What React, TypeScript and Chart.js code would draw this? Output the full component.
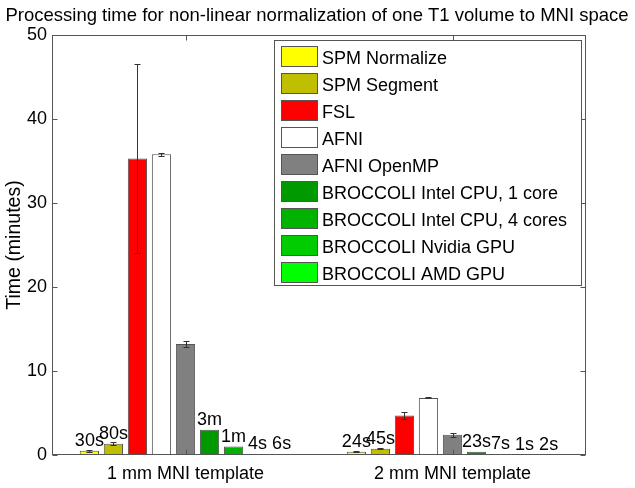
import React, { useEffect, useRef } from 'react';
import { Chart, registerables } from 'chart.js';

Chart.register(...registerables);

const FONT = '"Liberation Sans", Arial, Helvetica, sans-serif';

const chartTitle = 'Processing time for non-linear normalization of one T1 volume to MNI space';
const yAxisTitle = 'Time (minutes)';
const groups = ['1 mm MNI template', '2 mm MNI template'];
const yTicks = [0, 10, 20, 30, 40, 50];

const seriesNames = [
  'SPM Normalize',
  'SPM Segment',
  'FSL',
  'AFNI',
  'AFNI OpenMP',
  'BROCCOLI Intel CPU, 1 core',
  'BROCCOLI Intel CPU, 4 cores',
  'BROCCOLI Nvidia GPU',
  'BROCCOLI AMD GPU',
];
const seriesColors = ['#FFFF00', '#BFBF00', '#FF0000', '#FFFFFF', '#808080', '#009900', '#00B300', '#00CC00', '#00FF00'];

// minutes, per group [1 mm, 2 mm]
const spmNormalize = [0.5, 0.4];
const spmSegment = [1.33, 0.75];
const fsl = [35.3, 4.7];
const afni = [35.8, 6.8];
const afniOpenMP = [13.2, 2.4];
const broccoliCpu1 = [3.0, 0.383];
const broccoliCpu4 = [1.0, 0.117];
const broccoliNvidia = [0.067, 0.017];
const broccoliAmd = [0.1, 0.033];

const spmNormalizeErr = [0.1, 0.08];
const spmSegmentErr = [0.18, 0.08];
const fslErr = [11.2, 0.4];
const afniErr = [0.15, 0.05];
const afniOpenMPErr = [0.35, 0.2];
const broccoliCpu1Err = [0, 0];
const broccoliCpu4Err = [0, 0];
const broccoliNvidiaErr = [0, 0];
const broccoliAmdErr = [0, 0];

const spmNormalizeLbl = ['30s', '24s'];
const spmSegmentLbl = ['80s', '45s'];
const fslLbl = ['', ''];
const afniLbl = ['', ''];
const afniOpenMPLbl = ['', ''];
const broccoliCpu1Lbl = ['3m', '23s'];
const broccoliCpu4Lbl = ['1m', '7s'];
const broccoliNvidiaLbl = ['4s', '1s'];
const broccoliAmdLbl = ['6s', '2s'];

const seriesValues = [spmNormalize, spmSegment, fsl, afni, afniOpenMP, broccoliCpu1, broccoliCpu4, broccoliNvidia, broccoliAmd];
const seriesErrors = [spmNormalizeErr, spmSegmentErr, fslErr, afniErr, afniOpenMPErr, broccoliCpu1Err, broccoliCpu4Err, broccoliNvidiaErr, broccoliAmdErr];
const seriesLabels = [spmNormalizeLbl, spmSegmentLbl, fslLbl, afniLbl, afniOpenMPLbl, broccoliCpu1Lbl, broccoliCpu4Lbl, broccoliNvidiaLbl, broccoliAmdLbl];

const decorPlugin = {
  id: 'decor',
  afterDatasetsDraw(chart: any) {
    const ctx = chart.ctx;
    const y = chart.scales.y;
    ctx.save();
    // error bars
    ctx.strokeStyle = '#333';
    ctx.lineWidth = 1;
    seriesErrors.forEach((errs, i) => {
      const meta = chart.getDatasetMeta(i);
      errs.forEach((e, j) => {
        if (!e) return;
        const v = seriesValues[i][j];
        const bar = meta.data[j];
        const x = Math.round(bar.x) + 0.5;
        const yt = Math.round(y.getPixelForValue(v + e)) + 0.5;
        const yb = Math.round(y.getPixelForValue(Math.max(0, v - e))) + 0.5;
        ctx.beginPath();
        ctx.moveTo(x, yt);
        ctx.lineTo(x, yb);
        ctx.moveTo(x - 3, yt);
        ctx.lineTo(x + 3, yt);
        ctx.moveTo(x - 3, yb);
        ctx.lineTo(x + 3, yb);
        ctx.stroke();
      });
    });
    // value labels
    ctx.fillStyle = '#000';
    ctx.font = `18px ${FONT}`;
    ctx.textAlign = 'center';
    ctx.textBaseline = 'alphabetic';
    seriesLabels.forEach((lbls, i) => {
      const meta = chart.getDatasetMeta(i);
      lbls.forEach((t, j) => {
        if (!t) return;
        const bar = meta.data[j];
        const v = seriesValues[i][j];
        ctx.fillText(t, bar.x, y.getPixelForValue(v) - 5);
      });
    });
    ctx.restore();
  },
  afterDraw(chart: any) {
    const ctx = chart.ctx;
    const a = chart.chartArea;
    const y = chart.scales.y;
    const x = chart.scales.x;
    ctx.save();
    // axes box
    ctx.strokeStyle = '#555';
    ctx.lineWidth = 1;
    const L = Math.round(a.left) + 0.5;
    const R = Math.round(a.right) - 0.5;
    const T = Math.round(a.top) + 0.5;
    const B = Math.round(a.bottom) - 0.5;
    ctx.strokeRect(L, T, R - L, B - T);
    ctx.beginPath();
    yTicks.forEach((t) => {
      const py = Math.round(y.getPixelForValue(t)) + 0.5;
      ctx.moveTo(L, py);
      ctx.lineTo(L + 5, py);
      ctx.moveTo(R, py);
      ctx.lineTo(R - 5, py);
    });
    groups.forEach((_, i) => {
      const px = Math.round(x.getPixelForValue(i)) + 0.5;
      ctx.moveTo(px, T);
      ctx.lineTo(px, T + 5);
      ctx.moveTo(px, B);
      ctx.lineTo(px, B - 5);
    });
    ctx.stroke();

    // title
    ctx.fillStyle = '#000';
    ctx.font = `18.5px ${FONT}`;
    ctx.textAlign = 'center';
    ctx.textBaseline = 'alphabetic';
    ctx.fillText(chartTitle, 317, 21);

    // y axis title
    ctx.save();
    ctx.font = `19.5px ${FONT}`;
    ctx.translate(20, (a.top + a.bottom) / 2);
    ctx.rotate(-Math.PI / 2);
    ctx.fillText(yAxisTitle, 0, 0);
    ctx.restore();

    // legend
    ctx.font = `18px ${FONT}`;
    const lx = 274.5, ly = 40.5, lw = 307, lh = 245;
    ctx.fillStyle = '#fff';
    ctx.fillRect(lx, ly, lw, lh);
    ctx.strokeStyle = '#555';
    ctx.strokeRect(lx, ly, lw, lh);
    ctx.textAlign = 'left';
    seriesNames.forEach((name, i) => {
      const top = 46 + i * 27;
      ctx.fillStyle = seriesColors[i];
      ctx.fillRect(281.5, top + 0.5, 36, 20);
      ctx.strokeStyle = '#555';
      ctx.strokeRect(281.5, top + 0.5, 36, 20);
      ctx.fillStyle = '#000';
      ctx.fillText(name, 322, top + 17.5);
    });
    ctx.restore();
  },
};

export default function App() {
  const ref = useRef<HTMLCanvasElement | null>(null);
  useEffect(() => {
    document.body.style.margin = '0';
    if (!ref.current) return;
    const chart = new Chart(ref.current, {
      type: 'bar',
      data: {
        labels: groups,
        datasets: seriesNames.map((name, i) => ({
          label: name,
          data: seriesValues[i],
          backgroundColor: seriesColors[i],
          borderColor: '#555',
          borderWidth: 1,
          categoryPercentage: 0.81,
          barPercentage: 0.8,
        })),
      },
      options: {
        animation: false,
        responsive: false,
        devicePixelRatio: 1,
        layout: { padding: { top: 35, right: 49, left: 0, bottom: 0 } },
        plugins: {
          legend: { display: false },
          title: { display: false },
          tooltip: { enabled: false },
        },
        scales: {
          x: {
            type: 'category',
            offset: true,
            grid: { display: false, drawTicks: false },
            border: { display: false },
            ticks: { color: '#000', font: { family: FONT, size: 18 }, padding: 8, maxRotation: 0 },
            afterFit: (s: any) => {
              s.height = 33;
            },
          },
          y: {
            type: 'linear',
            min: 0,
            max: 50,
            grid: { display: false, drawTicks: false },
            border: { display: false },
            ticks: { stepSize: 10, color: '#000', font: { family: FONT, size: 18 }, padding: 5 },
            afterFit: (s: any) => {
              s.width = 52;
            },
          },
        },
      },
      plugins: [decorPlugin],
    });
    return () => chart.destroy();
  }, []);
  return (
    <div style={{ position: 'absolute', left: 0, top: 0, width: 635, height: 488 }}>
      <canvas ref={ref} width={635} height={488} />
    </div>
  );
}
